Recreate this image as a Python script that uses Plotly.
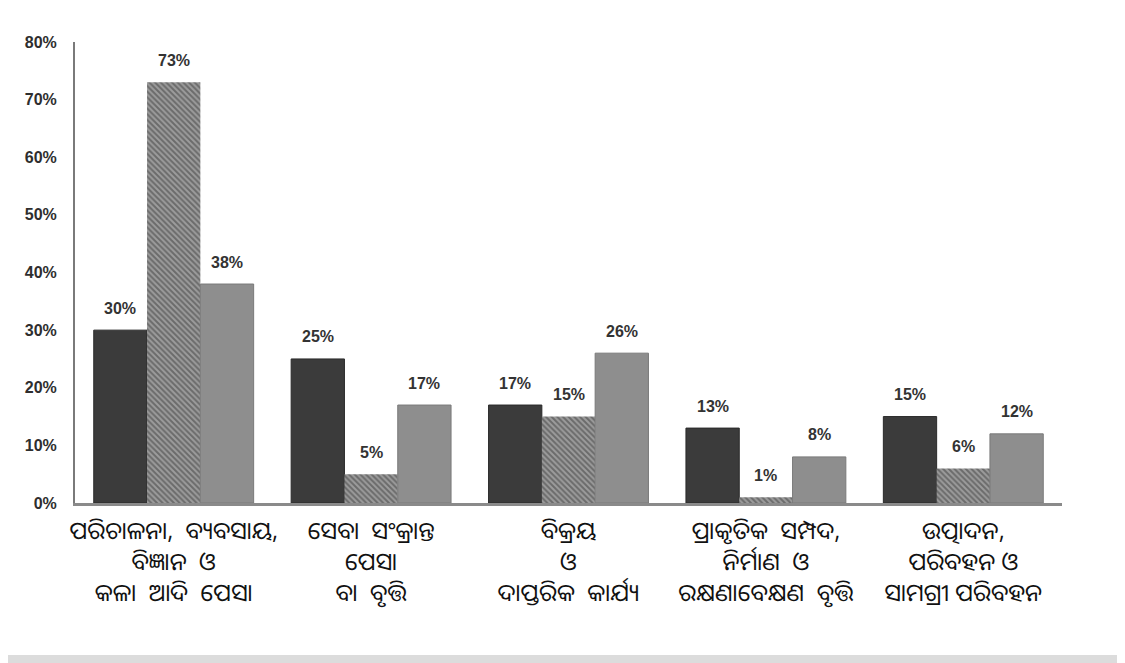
import plotly.graph_objects as go

categories = [
    "ପରିଚାଳନା,  ବ୍ୟବସାୟ,<br>ବିଜ୍ଞାନ  ଓ<br>କଳା  ଆଦି  ପେସା",
    "ସେବା  ସଂକ୍ରାନ୍ତ<br>ପେସା<br>ବା  ବୃତ୍ତି",
    "ବିକ୍ରୟ<br>ଓ<br>ଦାପ୍ତରିକ  କାର୍ଯ୍ୟ",
    "ପ୍ରାକୃତିକ  ସମ୍ପଦ,<br>ନିର୍ମାଣ  ଓ<br>ରକ୍ଷଣାବେକ୍ଷଣ  ବୃତ୍ତି",
    "ଉତ୍ପାଦନ,<br>ପରିବହନ ଓ<br>ସାମଗ୍ରୀ ପରିବହନ",
]
series_dark = [30, 25, 17, 13, 15]
series_hatched = [73, 5, 15, 1, 6]
series_light = [38, 17, 26, 8, 12]
y_ticks = [0, 10, 20, 30, 40, 50, 60, 70, 80]
y_tick_labels = ["0%", "10%", "20%", "30%", "40%", "50%", "60%", "70%", "80%"]

label_font = dict(family="Liberation Sans, Arial, sans-serif", size=16, color="#333333", weight="bold")

# page body has an 8px margin; figure is laid out so that it lands on the reference pixels
L, R, T, B = 67, 63, 34, 160
W, H = 1117, 655
pw, ph = W - L - R, H - T - B
BARGAP = 0.19
n_series = 3
bar_px = pw / len(categories) * (1 - BARGAP) / n_series

fig = go.Figure()
fig.add_trace(go.Bar(
    x=categories, y=series_dark, name="A",
    marker=dict(color="#3b3b3b", line=dict(color="#2a2a2a", width=1)),
))
fig.add_trace(go.Bar(
    x=categories, y=series_hatched, name="B",
    marker=dict(color="#929292", line=dict(width=0),
                pattern=dict(shape="\\", fgcolor="#3a3a3a", bgcolor="#9c9c9c",
                             size=4, solidity=0.5)),
))
fig.add_trace(go.Bar(
    x=categories, y=series_light, name="C",
    marker=dict(color="#8e8e8e", line=dict(color="#7a7a7a", width=1)),
))

annotations = []
for i, series in enumerate([series_dark, series_hatched, series_light]):
    for cat, v in zip(categories, series):
        annotations.append(dict(
            x=cat, y=v, xref="x", yref="y", text=f"{v}%", showarrow=False,
            xshift=(i - 1) * bar_px, yshift=22, yanchor="middle",
            font=label_font,
        ))

def px_x(p):
    return (p - L) / pw

def px_y(p):
    return 1 - (p - T) / ph

shapes = [
    dict(type="rect", xref="paper", yref="paper", x0=px_x(0), x1=px_x(W), y0=px_y(647), y1=px_y(H),
         fillcolor="#dcdcdc", line=dict(width=0), layer="above"),
    dict(type="rect", xref="paper", yref="paper", x0=px_x(1111), x1=px_x(W), y0=px_y(0), y1=px_y(H),
         fillcolor="#e0e0e0", line=dict(width=0), layer="above"),
]

fig.update_layout(
    width=W, height=H,
    margin=dict(l=L, r=R, t=T, b=B),
    paper_bgcolor="white", plot_bgcolor="white",
    barmode="group", bargap=BARGAP, bargroupgap=0,
    showlegend=False,
    shapes=shapes,
    annotations=annotations,
    xaxis=dict(
        showline=True, linecolor="#8a8a8a", linewidth=3,
        ticks="", showgrid=False,
        tickfont=dict(family="Noto Sans Oriya, Noto Sans, sans-serif", size=24, color="#111111"),
        ticklabelstandoff=4,
    ),
    yaxis=dict(
        range=[0, 80], tickvals=y_ticks, ticktext=y_tick_labels,
        showline=True, linecolor="#7a7a7a", linewidth=2,
        showgrid=False, zeroline=False, ticks="",
        tickfont=dict(family="Liberation Sans, Arial, sans-serif", size=16, color="#2e2e2e", weight="bold"),
        ticklabelstandoff=13,
    ),
)

fig.write_html("out.html")
